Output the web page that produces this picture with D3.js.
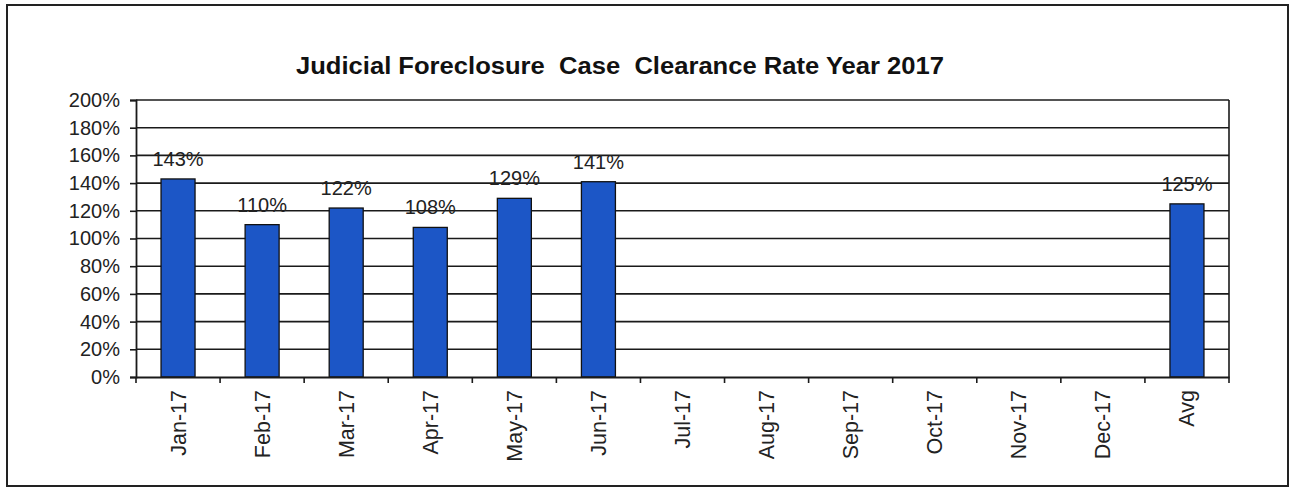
<!DOCTYPE html>
<html><head><meta charset="utf-8">
<script src="https://cdn.jsdelivr.net/npm/d3@7"></script>
<style>body{margin:0;background:#fff}svg{display:block}</style>
</head><body>
<svg id="c" width="1298" height="489"></svg>
<script>
const title = "Judicial Foreclosure  Case  Clearance Rate Year 2017";
const categories = ["Jan-17","Feb-17","Mar-17","Apr-17","May-17","Jun-17","Jul-17","Aug-17","Sep-17","Oct-17","Nov-17","Dec-17","Avg"];
const values = [143,110,122,108,129,141,null,null,null,null,null,null,125];
const yTicks = [0,20,40,60,80,100,120,140,160,180,200];

const svg = d3.select("#c");
const font = "'Liberation Sans', Arial, sans-serif";
const L = 136, R = 1229, T = 100, B = 377;

svg.append("rect").attr("x",7).attr("y",5).attr("width",1281).attr("height",481)
  .attr("fill","#fff").attr("stroke","#222").attr("stroke-width",2);

svg.append("text").attr("x",620).attr("y",74).attr("text-anchor","middle")
  .attr("font-family",font).attr("font-weight","bold").attr("font-size",23)
  .attr("fill","#111").attr("textLength",648).attr("lengthAdjust","spacingAndGlyphs")
  .style("white-space","pre").text(title);

const xb = d3.scaleBand().domain(categories).range([L,R]);
const y = d3.scaleLinear().domain([0,200]).range([B,T]);

// gridlines
svg.append("g").selectAll("line").data(yTicks.filter(d=>d>0)).join("line")
  .attr("x1",L).attr("x2",R).attr("y1",d=>y(d)).attr("y2",d=>y(d))
  .attr("stroke","#1a1a1a").attr("stroke-width",1.6);
svg.append("line").attr("x1",R).attr("x2",R).attr("y1",T).attr("y2",B).attr("stroke","#1a1a1a").attr("stroke-width",1.6);

// bars
const data = categories.map((c,i)=>({c, v: values[i]})).filter(d=>d.v!=null);
svg.append("g").selectAll("rect").data(data).join("rect")
  .attr("x",d=>xb(d.c)+xb.bandwidth()/2-17).attr("width",34)
  .attr("y",d=>y(d.v)).attr("height",d=>B-y(d.v))
  .attr("fill","#1c56c6").attr("stroke","#111").attr("stroke-width",1.3);

svg.append("g").selectAll("text").data(data).join("text")
  .attr("x",d=>xb(d.c)+xb.bandwidth()/2).attr("y",d=>y(d.v)-13)
  .attr("text-anchor","middle").attr("font-family",font).attr("font-size",20).attr("fill","#222")
  .text(d=>d.v+"%");

// y axis
const ya = svg.append("g").attr("transform",`translate(${L},0)`)
  .call(d3.axisLeft(y).tickValues(yTicks).tickFormat(d=>d+"%").tickSize(6).tickPadding(10));
ya.select(".domain").attr("stroke","#1a1a1a").attr("stroke-width",1.8);
ya.selectAll(".tick line").attr("stroke","#1a1a1a").attr("stroke-width",1.6);
ya.selectAll("text").attr("font-family",font).attr("font-size",20).attr("fill","#222");

// x axis
const xa = svg.append("g").attr("transform",`translate(0,${B})`)
  .call(d3.axisBottom(xb).tickSize(0).tickFormat(d=>d));
xa.select(".domain").attr("stroke","#1a1a1a").attr("stroke-width",1.8);
xa.selectAll(".tick text").attr("font-family",font).attr("font-size",21.5).attr("fill","#222")
  .attr("transform","rotate(-90)").attr("text-anchor","end")
  .attr("x",-13).attr("y",0).attr("dy","0.35em");
// boundary ticks
const bounds = categories.map(c=>xb(c)).concat([R]);
svg.append("g").selectAll("line").data(bounds).join("line")
  .attr("x1",d=>d).attr("x2",d=>d).attr("y1",B).attr("y2",B+6)
  .attr("stroke","#1a1a1a").attr("stroke-width",1.6);
</script>
</body></html>
